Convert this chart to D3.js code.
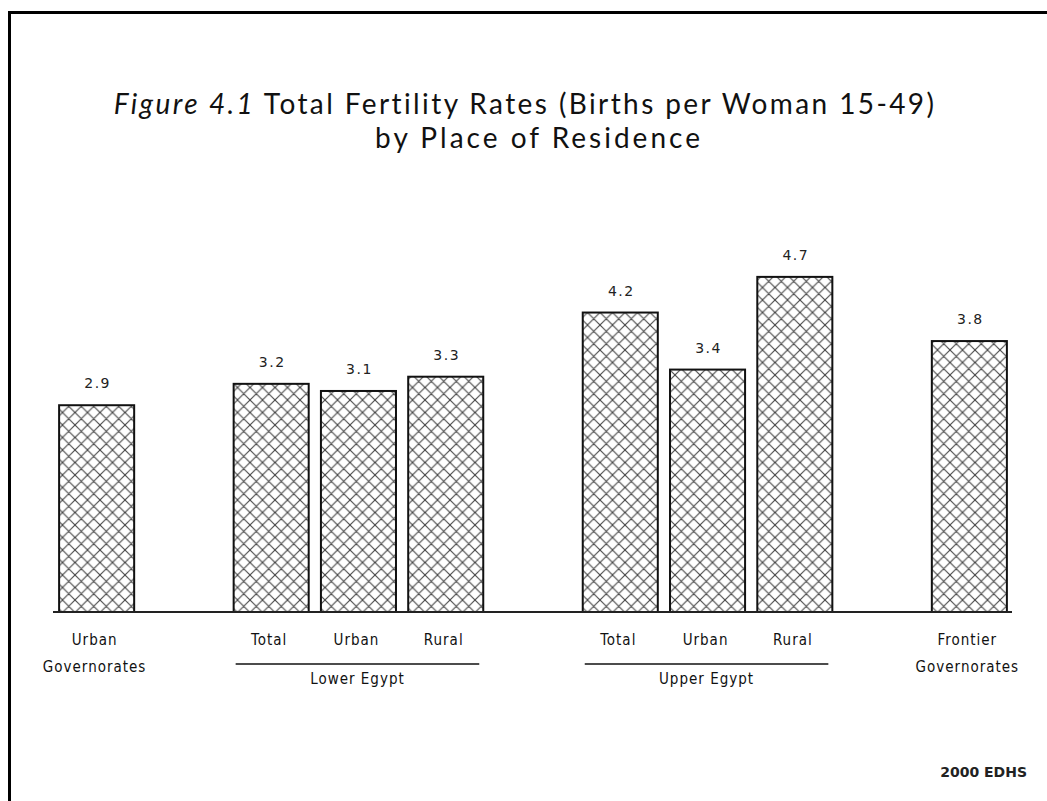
<!DOCTYPE html>
<html>
<head>
<meta charset="utf-8">
<script src="https://cdn.jsdelivr.net/npm/d3@7"></script>
<style>
  body { margin: 0; background: #fff; }
  svg { display: block; }
</style>
</head>
<body>
<div id="chart"></div>
<script>
// data
var categories = ["Urban Governorates", "Lower Egypt Total", "Lower Egypt Urban", "Lower Egypt Rural",
                  "Upper Egypt Total", "Upper Egypt Urban", "Upper Egypt Rural", "Frontier Governorates"];
var values = [2.9, 3.2, 3.1, 3.3, 4.2, 3.4, 4.7, 3.8];
var tickLabels = [["Urban", "Governorates"], ["Total"], ["Urban"], ["Rural"],
                  ["Total"], ["Urban"], ["Rural"], ["Frontier", "Governorates"]];
var groupNames = ["Lower Egypt", "Upper Egypt"];
var groupMembers = [[1, 2, 3], [4, 5, 6]];

var width = 1047, height = 801;
var svg = d3.select("#chart").append("svg").attr("width", width).attr("height", height);

// crosshatch fill
var defs = svg.append("defs");
var pat = defs.append("pattern")
    .attr("id", "hatch")
    .attr("patternUnits", "userSpaceOnUse")
    .attr("width", 12.5).attr("height", 12.5);
pat.append("rect").attr("width", 12.5).attr("height", 12.5).attr("fill", "#fff");
pat.append("path")
    .attr("d", "M0,0 L12.5,12.5 M12.5,0 L0,12.5 M-1,-1 L1,1 M11.5,11.5 L13.5,13.5 M11.5,1 L13.5,-1 M-1,13.5 L1,11.5")
    .attr("stroke", "#444").attr("stroke-width", 1.1).attr("fill", "none");

// frame (top and left only)
svg.append("path")
    .attr("d", "M9.5," + height + " V12.5 H" + width)
    .attr("fill", "none").attr("stroke", "#000").attr("stroke-width", 3);

// title
var titleFont = "Lato, 'Open Sans', sans-serif";
var title = svg.append("text")
    .attr("x", 525).attr("y", 114)
    .attr("text-anchor", "middle")
    .attr("font-family", titleFont)
    .attr("font-size", 28)
    .attr("letter-spacing", 2.4)
    .attr("fill", "#111");
title.append("tspan").attr("font-style", "italic").text("Figure 4.1");
title.append("tspan").text(" Total Fertility Rates (Births per Woman 15-49)");
svg.append("text")
    .attr("x", 539).attr("y", 148)
    .attr("text-anchor", "middle")
    .attr("font-family", titleFont)
    .attr("font-size", 28)
    .attr("letter-spacing", 3)
    .attr("fill", "#111")
    .text("by Place of Residence");

// slots with empty spacers between groups
var slots = [categories[0], "gap1"].concat(categories.slice(1, 4), ["gap2"], categories.slice(4, 7), ["gap3"], [categories[7]]);

var x = d3.scaleBand()
    .domain(slots)
    .range([53, 1013])
    .paddingInner(0.14)
    .paddingOuter(0.07);

var y = d3.scaleLinear()
    .domain([0, 5])
    .range([612, 255.5]);

var bars = svg.append("g");
bars.selectAll("rect")
    .data(categories)
    .enter().append("rect")
    .attr("x", function(d) { return x(d); })
    .attr("y", function(d, i) { return y(values[i]); })
    .attr("width", x.bandwidth())
    .attr("height", function(d, i) { return y(0) - y(values[i]); })
    .attr("fill", "url(#hatch)")
    .attr("stroke", "#111")
    .attr("stroke-width", 2);

bars.selectAll("text")
    .data(categories)
    .enter().append("text")
    .attr("x", function(d) { return x(d) + x.bandwidth() / 2 + 1; })
    .attr("y", function(d, i) { return y(values[i]) - 17; })
    .attr("text-anchor", "middle")
    .attr("font-family", "'DejaVu Sans', sans-serif")
    .attr("font-size", 14)
    .attr("letter-spacing", 1.5)
    .attr("fill", "#222")
    .text(function(d, i) { return values[i].toFixed(1); });

// baseline axis
var axis = svg.append("g")
    .attr("transform", "translate(0," + y(0) + ")")
    .call(d3.axisBottom(x).tickSize(0).tickFormat(""));
axis.select(".domain")
    .attr("d", "M53,0 H1012")
    .attr("stroke", "#222").attr("stroke-width", 2);
axis.selectAll(".tick").remove();

var labelFont = "'DejaVu Sans Condensed', 'DejaVu Sans', sans-serif";
var ticks = svg.append("g");
categories.forEach(function(c, i) {
    var cx = x(c) + x.bandwidth() / 2 - 2;
    var t = ticks.append("text")
        .attr("x", cx)
        .attr("y", 645)
        .attr("text-anchor", "middle")
        .attr("font-family", labelFont)
        .attr("font-size", 15)
        .attr("letter-spacing", 1)
        .attr("fill", "#111");
    tickLabels[i].forEach(function(line, k) {
        t.append("tspan").attr("x", cx).attr("dy", k === 0 ? 0 : 27).text(line);
    });
});

// group brackets
groupNames.forEach(function(g, i) {
    var first = categories[groupMembers[i][0]];
    var last = categories[groupMembers[i][groupMembers[i].length - 1]];
    var x0 = x(first) + 2, x1 = x(last) + x.bandwidth() - 4;
    svg.append("line")
        .attr("x1", x0).attr("x2", x1)
        .attr("y1", 664).attr("y2", 664)
        .attr("stroke", "#111").attr("stroke-width", 1.5);
    svg.append("text")
        .attr("x", (x0 + x1) / 2)
        .attr("y", 684)
        .attr("text-anchor", "middle")
        .attr("font-family", labelFont)
        .attr("font-size", 15)
        .attr("letter-spacing", 1)
        .attr("fill", "#111")
        .text(g);
});

// source note
svg.append("text")
    .attr("x", 1027).attr("y", 777)
    .attr("text-anchor", "end")
    .attr("font-family", "'DejaVu Sans', sans-serif")
    .attr("font-size", 14)
    .attr("font-weight", "bold")
    .attr("fill", "#222")
    .text("2000 EDHS");
</script>
</body>
</html>
